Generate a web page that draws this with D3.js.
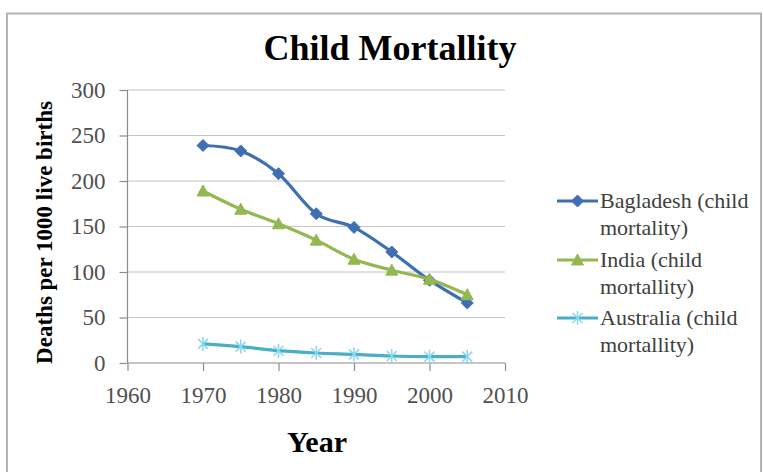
<!DOCTYPE html>
<html><head><meta charset="utf-8">
<script src="https://cdn.jsdelivr.net/npm/d3@7"></script>
<style>body{margin:0;background:#fff}svg{display:block}</style>
</head><body>
<svg id="c" width="763" height="472"></svg>
<script>
const years = [1970, 1975, 1980, 1985, 1990, 1995, 2000, 2005];
const bangladesh = [239, 233, 208, 164, 149, 122, 91, 66];
const india = [189, 169, 153, 135, 114, 102, 92, 75];
const australia = [21, 18, 13.5, 11, 9.5, 7.7, 7, 7];
const seriesNames = [["Bagladesh (child", "mortality)"], ["India (child", "mortallity)"], ["Australia (child", "mortallity)"]];
const xTicks = [1960, 1970, 1980, 1990, 2000, 2010];
const yTicks = [0, 50, 100, 150, 200, 250, 300];

const svg = d3.select("#c");
const serif = "'Liberation Serif', 'DejaVu Serif', serif";
const x = d3.scaleLinear().domain([1960, 2010]).range([127.5, 505]);
const y = d3.scaleLinear().domain([0, 300]).range([363, 90]);

svg.append("rect").attr("x", 7).attr("y", 13.5).attr("width", 754).attr("height", 480)
  .attr("fill", "#fff").attr("stroke", "#b4b4b4").attr("stroke-width", 2);

svg.append("text").attr("x", 390).attr("y", 60).attr("text-anchor", "middle")
  .attr("font-family", serif).attr("font-weight", "bold").attr("font-size", 36)
  .attr("fill", "#000").text("Child Mortallity");

// gridlines
svg.append("g").selectAll("line").data(yTicks.filter(d => d > 0)).join("line")
  .attr("x1", x(1960)).attr("x2", x(2010)).attr("y1", d => y(d)).attr("y2", d => y(d))
  .attr("stroke", "#c4c4c4").attr("stroke-width", 1.2);

const yAxis = svg.append("g").attr("transform", `translate(${x(1960)},0)`)
  .call(d3.axisLeft(y).tickValues(yTicks).tickSize(8).tickPadding(14));
const xAxis = svg.append("g").attr("transform", `translate(0,${y(0)})`)
  .call(d3.axisBottom(x).tickValues(xTicks).tickFormat(d3.format("d")).tickSize(8).tickPadding(16));
[yAxis, xAxis].forEach(a => {
  a.select(".domain").attr("stroke", "#8c8c8c").attr("stroke-width", 1.2);
  a.selectAll(".tick line").attr("stroke", "#8c8c8c").attr("stroke-width", 1.2);
  a.selectAll("text").attr("font-family", serif).attr("font-size", 23).attr("fill", "#505050");
});
xAxis.select(".domain").attr("d", `M${x(1960)},0H${x(2010)}`);
yAxis.select(".domain").attr("d", `M0,${y(0)}V${y(300)}`);

svg.append("text").attr("transform", `translate(52,${(y(0)+y(300))/2 + 6}) rotate(-90)`)
  .attr("text-anchor", "middle").attr("font-family", serif).attr("font-weight", "bold")
  .attr("font-size", 23).attr("fill", "#000").text("Deaths per 1000 live births");
svg.append("text").attr("x", 317).attr("y", 452).attr("text-anchor", "middle")
  .attr("font-family", serif).attr("font-weight", "bold").attr("font-size", 30)
  .attr("fill", "#000").text("Year");

const colors = ["#3f6fb3", "#93b850", "#4aaec6"];
const markerFill = ["#3f6fb3", "#93b850", "#8ad8ec"];
const all = [bangladesh, india, australia];
const line = d3.line().x(d => x(d[0])).y(d => y(d[1])).curve(d3.curveCardinal.tension(0));

function marker(g, i, cx, cy) {
  if (i === 0) {
    g.append("path").attr("d", `M${cx},${cy-6}L${cx+6},${cy}L${cx},${cy+6}L${cx-6},${cy}Z`)
      .attr("fill", markerFill[0]).attr("stroke", markerFill[0]);
  } else if (i === 1) {
    g.append("path").attr("d", `M${cx},${cy-6}L${cx+6},${cy+5}L${cx-6},${cy+5}Z`)
      .attr("fill", markerFill[1]).attr("stroke", markerFill[1]);
  } else {
    g.append("path").attr("d", `M${cx},${cy-7}V${cy+7}M${cx-5},${cy-5}L${cx+5},${cy+5}M${cx-5},${cy+5}L${cx+5},${cy-5}`)
      .attr("stroke", markerFill[2]).attr("stroke-width", 1.5).attr("fill", "none");
  }
}

all.forEach((vals, i) => {
  const pts = years.map((yr, j) => [yr, vals[j]]);
  const g = svg.append("g");
  g.append("path").attr("d", line(pts)).attr("fill", "none")
    .attr("stroke", colors[i]).attr("stroke-width", 3.2);
  pts.forEach(p => marker(g, i, x(p[0]), y(p[1])));
});

// legend
const legY = [201, 260, 318];
seriesNames.forEach((nm, i) => {
  const g = svg.append("g");
  g.append("line").attr("x1", 557).attr("x2", 598).attr("y1", legY[i]).attr("y2", legY[i])
    .attr("stroke", colors[i]).attr("stroke-width", 3.2);
  marker(g, i, 577.5, legY[i]);
  nm.forEach((t, k) => {
    g.append("text").attr("x", 600).attr("y", legY[i] + 7 + k * 27)
      .attr("font-family", serif).attr("font-size", 22).attr("fill", "#404040").text(t);
  });
});
</script>
</body></html>
